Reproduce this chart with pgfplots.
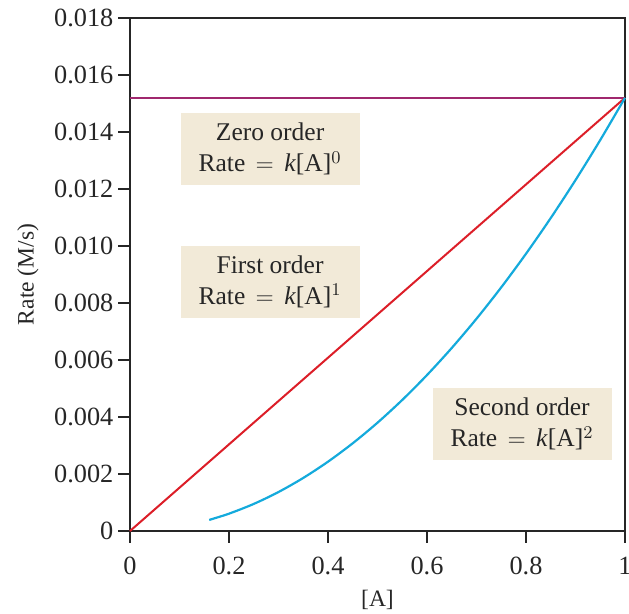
\documentclass[border=0pt]{standalone}
\usepackage{pgfplots}
\pgfplotsset{compat=1.18}
\usepackage{fontspec}
\setmainfont{Liberation Serif}
\definecolor{zeroc}{RGB}{160,40,110}
\definecolor{firstc}{RGB}{220,30,40}
\definecolor{secondc}{RGB}{20,170,220}
\definecolor{boxc}{RGB}{242,234,216}
\begin{document}
\begin{tikzpicture}
  % page frame as in the reference
  \path[use as bounding box] (-65bp,-41.5bp) rectangle (249.5bp,265.5bp);
  \begin{axis}[
      at={(0,0)}, anchor=origin,
      scale only axis,
      width=247.5bp,
      height=256.5bp,
      xmin=0, xmax=1,
      ymin=0, ymax=0.018,
      axis line style={line width=1.3bp, black!85},
      xtick={0,0.2,0.4,0.6,0.8,1},
      xticklabels={0,0.2,0.4,0.6,0.8,1},
      ytick={0,0.002,0.004,0.006,0.008,0.010,0.012,0.014,0.016,0.018},
      yticklabels={0,0.002,0.004,0.006,0.008,0.010,0.012,0.014,0.016,0.018},
      scaled y ticks=false,
      tick align=outside,
      xtick pos=bottom,
      ytick pos=left,
      major tick length=5.8bp,
      tick style={line width=1bp, black!85},
      ticklabel style={font=\fontsize{13.2}{15}\selectfont, text=black!85},
      yticklabel style={xshift=1bp},
      xticklabel style={yshift=-3.5bp},
      xlabel={[A]},
      ylabel={Rate (M/s)},
      label style={font=\fontsize{11.8}{14}\selectfont, text=black!85},
      xlabel style={at={(axis description cs:0.5,-0.134)}, anchor=center},
      ylabel style={at={(axis description cs:-0.206,0.5)}, anchor=center},
      clip=false,
    ]
    % zero order
    \addplot[color=zeroc, line width=1bp] coordinates {(0,0.0152) (1,0.0152)};
    % first order
    \addplot[color=firstc, line width=1bp] coordinates {(0,0) (1,0.0152)};
    % second order
    \addplot[color=secondc, line width=1.1bp, smooth] coordinates {
      (0.16,0.000389) (0.2,0.000608) (0.25,0.00095) (0.3,0.001368)
      (0.35,0.001862) (0.4,0.002432) (0.45,0.003078) (0.5,0.0038)
      (0.55,0.004598) (0.6,0.005472) (0.65,0.006422) (0.7,0.007448)
      (0.75,0.00855) (0.8,0.009728) (0.85,0.010982) (0.9,0.012312)
      (0.95,0.013718) (1,0.0152)
    };
    \tikzset{lab/.style={fill=boxc, align=center, inner xsep=9bp, inner ysep=5bp,
        font=\fontsize{12.8}{15.5}\selectfont, text=black!85}}
    \node[lab] at (axis cs:0.283,0.0134) {Zero order\\Rate $\,=\,$ \textit{k}[A]$^0$};
    \node[lab] at (axis cs:0.283,0.00874) {First order\\Rate $\,=\,$ \textit{k}[A]$^1$};
    \node[lab] at (axis cs:0.792,0.00375) {Second order\\Rate $\,=\,$ \textit{k}[A]$^2$};
  \end{axis}
\end{tikzpicture}
\end{document}
